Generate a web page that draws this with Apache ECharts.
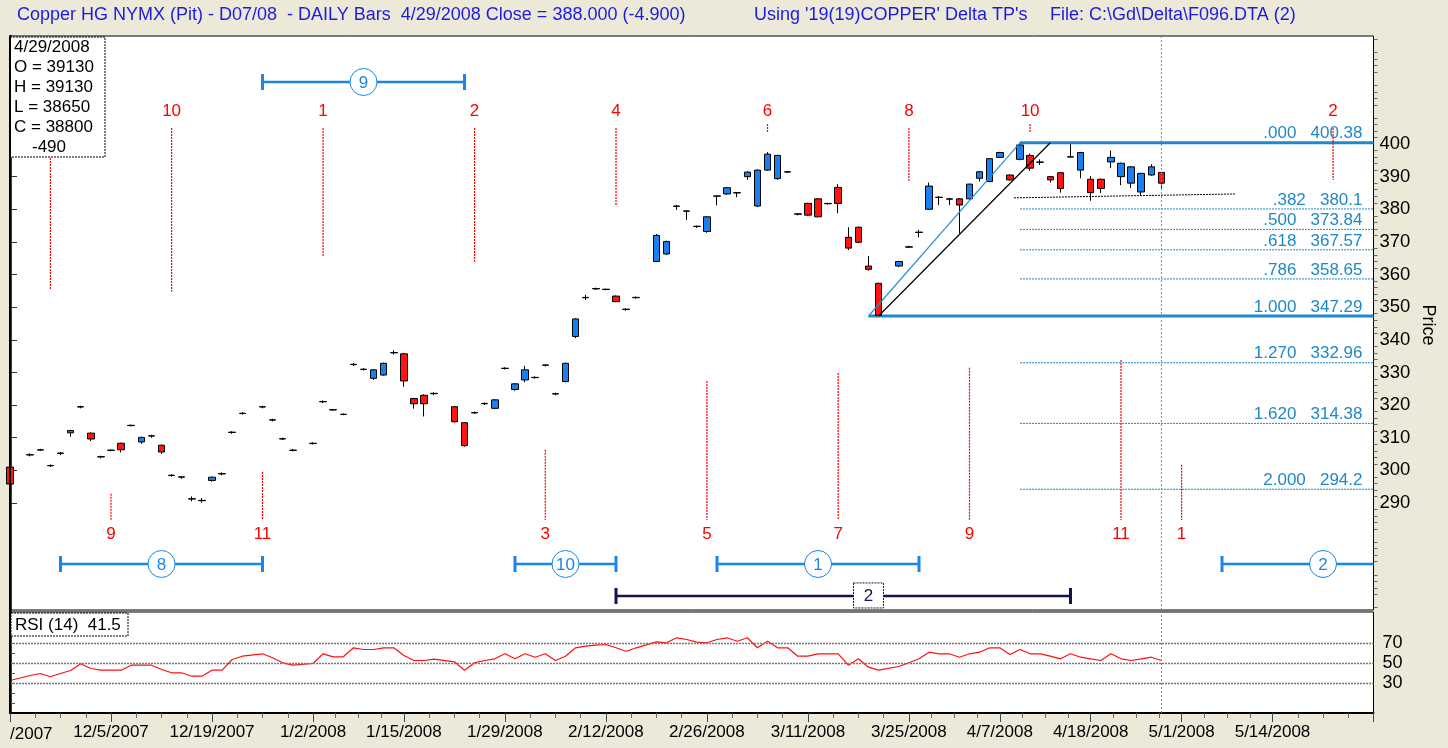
<!DOCTYPE html>
<html><head><meta charset="utf-8">
<script src="https://cdn.jsdelivr.net/npm/echarts@6/dist/echarts.min.js"></script>
<style>html,body{margin:0;padding:0;background:#ECE9D8;}#c{width:1448px;height:748px;}</style>
</head><body><div id="c"></div><script>
// ---------- DATA ----------
// weekday index 0 = 11/21/2007 (holidays left empty)
const openP  = [301.0,null,304.8,306.3,301.5,305.3,311.5,319.5,311.4,304.2,306.2,308.3,313.8,308.7,310.6,307.7,298.5,298.0,291.3,290.8,296.9,299.0,311.7,317.5,null,319.5,315.5,309.7,306.2,null,308.3,321.1,318.6,317.2,332.5,331.0,328.2,329.2,336.1,335.7,322.0,323.0,323.6,null,319.5,314.6,317.7,320.5,319.0,331.3,324.8,327.7,328.5,332.3,323.5,327.2,341.0,353.0,355.7,355.5,353.4,349.4,353.0,null,364.0,366.3,381.0,379.5,374.8,373.2,384.1,384.7,385.1,390.0,381.0,392.0,389.4,391.5,378.6,381.8,383.2,381.8,386.7,371.4,374.5,362.6,357.3,null,362.6,368.5,373.0,380.0,383.7,383.2,383.2,383.2,389.5,388.5,395.9,390.5,395.3,396.5,394.5,390.0,391.2,396.1,392.0,389.2,389.2,394.5,390.0,388.0,385.3,390.5,391.3];
const closeP = [295.8,null,304.7,306.2,301.4,305.2,312.2,319.4,309.6,304.1,306.1,306.3,313.7,310.1,310.5,305.6,298.4,297.9,291.2,290.7,297.9,298.9,311.6,317.4,null,319.4,315.4,309.6,306.1,null,308.2,321.0,318.5,317.1,332.4,330.9,330.8,332.8,336.0,327.4,320.4,320.4,323.5,null,314.9,307.6,317.6,320.4,321.6,331.2,326.5,330.8,328.4,332.2,323.4,332.8,346.4,352.9,355.6,355.4,351.7,349.3,352.9,null,372.0,370.1,380.9,379.4,374.7,377.7,384.0,386.6,385.0,391.4,392.0,396.9,396.5,391.4,378.5,378.2,377.7,381.7,381.8,368.1,369.9,361.6,347.5,null,364.0,368.4,372.9,387.1,383.6,383.1,381.3,387.7,391.5,395.5,397.4,389.0,399.7,392.6,394.4,389.0,386.4,396.0,397.4,385.1,386.4,395.9,394.1,393.0,391.0,393.0,388.0];
const lowP   = [295.5,null,304.3,306.0,301.0,304.7,310.3,319.0,309.0,303.7,305.8,305.5,313.5,308.1,310.0,305.0,298.1,297.4,290.5,290.1,296.5,298.5,311.2,317.1,null,319.0,315.0,309.3,305.8,null,307.9,320.6,318.3,316.9,332.0,330.6,327.7,329.0,335.5,325.6,318.9,316.5,323.0,null,314.6,307.2,317.3,320.0,318.7,330.9,324.4,327.0,328.1,331.8,323.0,327.0,340.5,352.2,355.3,355.2,351.5,348.9,352.6,null,363.8,366.0,379.8,376.7,374.3,372.8,381.2,384.4,383.7,389.0,380.7,391.8,389.0,391.1,378.1,378.0,377.5,381.4,378.8,367.5,369.6,361.2,347.29,null,362.3,368.1,371.4,379.8,381.3,381.3,372.6,383.0,388.5,388.3,395.7,388.8,395.0,391.8,393.6,388.2,385.1,395.8,389.5,382.6,385.0,392.6,387.4,386.5,384.4,390.3,386.5];
const highP  = [301.3,null,305.2,306.6,301.8,305.6,312.4,319.8,311.6,304.5,306.4,308.5,314.0,310.3,310.9,307.9,298.8,298.2,292.0,291.5,298.1,299.4,312.0,317.8,null,319.8,315.8,310.0,306.5,null,308.6,321.4,318.8,317.4,332.8,331.3,331.0,333.0,336.8,336.0,322.2,323.3,323.9,null,319.7,314.8,318.0,320.8,321.8,331.6,326.7,332.0,328.8,332.5,323.8,333.0,346.6,353.8,356.0,355.7,353.6,349.6,353.3,null,372.4,370.4,381.3,379.7,375.0,377.9,384.3,386.8,385.3,391.6,392.2,397.5,396.7,391.7,378.8,382.0,383.4,382.0,387.7,374.5,374.7,365.7,357.5,null,364.2,368.8,373.7,388.2,384.0,383.5,383.4,387.9,391.7,395.7,397.6,390.7,400.38,397.1,395.3,390.2,391.4,400.0,397.6,390.2,389.4,398.0,394.3,393.2,391.2,393.8,391.3];
const rsi14  = [32.5,null,37.5,39.5,36.2,39.5,42.5,49.2,44.5,42.8,42.8,42.8,47.8,47.8,47.8,43.5,40.2,40.2,36.8,36.8,42.8,42.8,53.5,56.8,null,59.2,55.2,50.2,47.8,null,49.5,59.2,56.2,56.2,65.2,63.5,63.5,65.2,65.2,57.5,52.5,52.5,53.8,null,51.2,42.8,50.2,52.5,54.2,59.2,54.2,59.2,55.8,59.2,52.5,56.8,65.2,66.8,67.8,68.5,65.2,61.8,65.2,null,71.2,70.2,75.2,73.5,70.8,70.2,73.5,75.2,71.8,75.2,65.2,71.8,65.2,65.2,56.8,56.8,59.2,59.2,59.2,47.8,54.2,45.8,42.8,null,46.5,50.2,54.2,60.8,59.2,59.2,55.8,59.2,60.8,65.2,65.2,58.5,63.5,59.2,59.2,56.8,54.2,59.2,55.8,54.2,52.5,59.2,54.2,52.5,54.2,55.8,52.5];

const axisLabelIdx = [10,20,30,39,49,59,69,79,89,98,107,116,125];
const axisMajorIdx = [0,10,20,30,39,49,59,69,79,89,98,107,116,125,135];
const priceTicks = [290,300,310,320,330,340,350,360,370,380,390,400];
const rsiLabels = [30,50,70];

const fibRatio = ['.000','.382','.500','.618','.786','1.000','1.270','1.620','2.000'];
const fibPrice = [400.38,380.1,373.84,367.57,358.65,347.29,332.96,314.38,294.2];
const fibStart = [100,100,100,100,100,85,100,100,100];
const fibThick = [true,false,false,false,false,true,false,false,false];

// time-cycle markers (red)
const topMarkIdx   = [4,16,31,46,60,75,89,101,131];
const topMarkText  = ['8','10','1','2','4','6','8','10','2'];
const topMarkTop   = [404.9,404.9,404.9,404.9,404.9,406.1,404.9,406.1,404.9];
const topMarkEnd   = [355.3,354.7,365.4,363.9,381.3,403.4,388.7,403.4,389.0];
const botMarkIdx   = [10,25,53,69,82,95,110,116];
const botMarkText  = ['9','11','3','5','7','9','11','1'];
const botMarkStart = [292.8,299.5,306.3,327.4,329.8,331.4,333.8,301.7];
const botMarkEnd   = 284.8;
const topLabelPrice = 410.1, botLabelPrice = 280.5;

// blue cycle bars
const cycFrom  = [25,5,50,70,120];
const cycTo    = [45,25,60,90,140];
const cycPrice = [419.0,271.3,271.3,271.3,271.3];
const cycText  = ['9','8','10','1','2'];
// navy bar
const navyFrom = 60, navyTo = 105, navyMid = 85, navyPrice = 261.5, navyText = '2';

// trend lines [x1,p1,x2,p2]
const trendBlue  = [85,347.29,100,400.38];
const trendBlack = [86,347.29,103,400.38];
const supportLine = [99.4,383.5,121.3,384.7];
const currentIdx = 114;

// ---------- BUILD ----------
const N = 136;
const dates = (function(){const o=[];const d=new Date(2007,10,21);while(o.length<N){const w=d.getDay();if(w>0&&w<6)o.push((d.getMonth()+1)+'/'+d.getDate()+'/'+d.getFullYear());d.setDate(d.getDate()+1);}return o;})();
const candleData = dates.map((_,i)=> (i<openP.length && openP[i]!=null) ? [openP[i],closeP[i],lowP[i],highP[i]] : '-');
const rsiData = []; rsi14.forEach((v,i)=>{ if(v!=null) rsiData.push([i,v]); });
const minorIdx = []; for(let k=0;k<axisMajorIdx.length-1;k++){const a=axisMajorIdx[k],b=axisMajorIdx[k+1];for(let j=1;j<4;j++)minorIdx.push(a+(b-a)*j/4);}
const priceMinor = []; for(let v=258; v<=432; v+=2) if(v%10) priceMinor.push(v);

const FONT = '"Liberation Sans", Arial, sans-serif';
const F17 = '17px ' + FONT;
const F18 = '18px ' + FONT;
const BLUE = '#1a86ea', FIBC = '#1f88c8', RED = '#ff0000', NAVY = '#141450';
const XMAX = 135, YMIN = 257.2, YMAX = 433.1;

function txt(text, x, y, fill, align, va, font, z){
  const t = {type:'text', style:{text:text, x:x, y:y, fill:fill, font:font||F17, align:align||'left', verticalAlign:va||'middle', textAlign:align||'left', textVerticalAlign:va||'middle'}};
  if(z!=null) t.z = z;
  return t;
}
function ln(x1,y1,x2,y2,stroke,w,dash,z){
  const l = {type:'line', shape:{x1:x1,y1:y1,x2:x2,y2:y2}, style:{stroke:stroke, lineWidth:w, lineDash:dash||null}};
  if(z!=null) l.z = z;
  return l;
}

const chart = echarts.init(document.getElementById('c'), null, {renderer:'canvas'});
const option = {
  animation:false,
  backgroundColor:'#ECE9D8',
  grid:[
    {left:10, right:74.5, top:36, height:574, show:true, backgroundColor:'#fff', borderColor:'#000', borderWidth:1},
    {left:10, right:74.5, top:612, height:101, show:true, backgroundColor:'#fff', borderColor:'#000', borderWidth:1}
  ],
  xAxis:[
    {type:'category', gridIndex:0, data:dates, boundaryGap:false, show:false},
    {type:'value', gridIndex:0, min:0, max:XMAX, show:false},
    {type:'value', gridIndex:1, min:0, max:XMAX, position:'bottom',
      axisLine:{show:true, onZero:false, lineStyle:{color:'#000', width:2}},
      axisTick:{show:true, customValues:axisMajorIdx, length:9, lineStyle:{color:'#444', width:1}},
      axisLabel:{show:true, customValues:axisLabelIdx, formatter:v=>dates[Math.round(v)], fontSize:17, fontFamily:FONT, color:'#000', margin:11},
      splitLine:{show:false}},
    {type:'value', gridIndex:1, min:0, max:XMAX, position:'bottom',
      axisLine:{show:false}, axisTick:{show:true, customValues:minorIdx, length:5, lineStyle:{color:'#666'}},
      axisLabel:{show:false}, splitLine:{show:false}}
  ],
  yAxis:[
    {type:'value', gridIndex:0, position:'right', min:YMIN, max:YMAX,
      axisLine:{show:true, lineStyle:{color:'#000', width:2.5}},
      axisTick:{show:true, customValues:priceTicks, length:7, lineStyle:{color:'#333'}},
      axisLabel:{show:true, customValues:priceTicks, fontSize:18.5, fontFamily:FONT, color:'#000', margin:6},
      splitLine:{show:false}},
    {type:'value', gridIndex:0, position:'right', min:YMIN, max:YMAX,
      axisLine:{show:false}, axisTick:{show:true, customValues:priceMinor, length:4, lineStyle:{color:'#666'}},
      axisLabel:{show:false}, splitLine:{show:false}},
    {type:'value', gridIndex:1, position:'right', min:0, max:101,
      axisLine:{show:true, lineStyle:{color:'#000', width:2.5}},
      axisTick:{show:true, customValues:[10,20,30,40,50,60,70,80,90], length:5, lineStyle:{color:'#555'}},
      axisLabel:{show:true, customValues:rsiLabels, fontSize:18, fontFamily:FONT, color:'#000', margin:9},
      splitLine:{show:false}}
  ],
  series:[
    { // fib levels
      type:'custom', xAxisIndex:1, yAxisIndex:0, z:1, silent:true,
      data: fibPrice.map((p,i)=>[fibStart[i], p]),
      renderItem:(params, api)=>{
        const i = params.dataIndex;
        const a = api.coord([fibStart[i], fibPrice[i]]), b = api.coord([XMAX, fibPrice[i]]);
        return {type:'group', children:[
          ln(a[0],a[1],b[0],b[1],FIBC, fibThick[i]?3:1, fibThick[i]?null:[2,1]),
          txt(fibRatio[i]+'   '+fibPrice[i], b[0]-11, a[1]-9, FIBC, 'right','middle')
        ]};
      }
    },
    { // candles
      type:'candlestick', xAxisIndex:0, yAxisIndex:0, data:candleData, barWidth:7, z:3, clip:true,
      itemStyle:{color:'#1a7ff0', color0:'#ff1414', borderColor:'#000', borderColor0:'#000', borderColorDoji:'#000', borderWidth:1}
    },
    { // trend lines + current bar line
      type:'custom', xAxisIndex:1, yAxisIndex:0, z:4, silent:true,
      data:[[trendBlue[0],trendBlue[1]]],
      renderItem:(params, api)=>{
        const b1=api.coord([trendBlue[0],trendBlue[1]]), b2=api.coord([trendBlue[2],trendBlue[3]]);
        const k1=api.coord([trendBlack[0],trendBlack[1]]), k2=api.coord([trendBlack[2],trendBlack[3]]);
        const s1=api.coord([supportLine[0],supportLine[1]]), s2=api.coord([supportLine[2],supportLine[3]]);
        const c1=api.coord([currentIdx,YMAX]), c2=api.coord([currentIdx,YMIN]);
        return {type:'group', children:[
          ln(b1[0],b1[1],b2[0],b2[1],'#2a90d8',1.2),
          ln(k1[0],k1[1],k2[0],k2[1],'#000',1.2),
          ln(s1[0],s1[1],s2[0],s2[1],'#000',1,[2,1]),
          ln(c1[0],c1[1],c2[0],c2[1],'#888',1,[2,2])
        ]};
      }
    },
    { // red time markers top
      type:'custom', xAxisIndex:1, yAxisIndex:0, z:2, silent:true,
      data: topMarkIdx.map((x,i)=>[x, topMarkTop[i]]),
      renderItem:(params, api)=>{
        const i=params.dataIndex, x=topMarkIdx[i];
        const a=api.coord([x, topMarkTop[i]]), b=api.coord([x, topMarkEnd[i]]), t=api.coord([x, topLabelPrice]);
        return {type:'group', children:[ ln(a[0],a[1],b[0],b[1],RED,1.2,[2,1]), txt(topMarkText[i], t[0], t[1], RED, 'center','middle') ]};
      }
    },
    { // red time markers bottom
      type:'custom', xAxisIndex:1, yAxisIndex:0, z:2, silent:true,
      data: botMarkIdx.map((x,i)=>[x, botMarkStart[i]]),
      renderItem:(params, api)=>{
        const i=params.dataIndex, x=botMarkIdx[i];
        const a=api.coord([x, botMarkStart[i]]), b=api.coord([x, botMarkEnd]), t=api.coord([x, botLabelPrice]);
        return {type:'group', children:[ ln(a[0],a[1],b[0],b[1],RED,1.2,[2,1]), txt(botMarkText[i], t[0], t[1], RED, 'center','middle') ]};
      }
    },
    { // blue cycle bars
      type:'custom', xAxisIndex:1, yAxisIndex:0, z:5, silent:true,
      data: cycFrom.map((x,i)=>[(x+cycTo[i])/2, cycPrice[i]]),
      renderItem:(params, api)=>{
        const i=params.dataIndex;
        const to = Math.min(cycTo[i], XMAX);
        const a=api.coord([cycFrom[i], cycPrice[i]]), b=api.coord([to, cycPrice[i]]), c=api.coord([(cycFrom[i]+cycTo[i])/2, cycPrice[i]]);
        const ch=[ ln(a[0],a[1],b[0],b[1],BLUE,2.5), ln(a[0],a[1]-8,a[0],a[1]+8,BLUE,3) ];
        if(cycTo[i] <= XMAX) ch.push(ln(b[0],b[1]-8,b[0],b[1]+8,BLUE,3));
        ch.push({type:'circle', shape:{cx:c[0], cy:c[1], r:13.5}, style:{fill:'#fff', stroke:BLUE, lineWidth:1}});
        ch.push(txt(cycText[i], c[0], c[1]+1, BLUE, 'center','middle'));
        return {type:'group', children:ch};
      }
    },
    { // navy bar
      type:'custom', xAxisIndex:1, yAxisIndex:0, z:5, silent:true,
      data:[[navyMid, navyPrice]],
      renderItem:(params, api)=>{
        const a=api.coord([navyFrom,navyPrice]), b=api.coord([navyTo,navyPrice]), c=api.coord([navyMid,navyPrice]);
        return {type:'group', children:[
          ln(a[0],a[1],b[0],b[1],NAVY,2.5), ln(a[0],a[1]-8,a[0],a[1]+8,NAVY,3), ln(b[0],b[1]-8,b[0],b[1]+8,NAVY,3),
          {type:'rect', shape:{x:c[0]-15, y:c[1]-13, width:30, height:25}, style:{fill:'#fff', stroke:NAVY, lineWidth:1, lineDash:[2,1]}},
          txt(navyText, c[0], c[1], NAVY, 'center','middle')
        ]};
      }
    },
    { // RSI
      type:'line', xAxisIndex:2, yAxisIndex:2, data:rsiData, symbol:'none', z:3, silent:true,
      lineStyle:{color:'#ff1010', width:1.2},
      markLine:{silent:true, symbol:'none', label:{show:false},
        data:[
          {yAxis:30, lineStyle:{color:'#777', type:[2,1], width:1.3}},
          {yAxis:50, lineStyle:{color:'#777', type:[2,1], width:1.3}},
          {yAxis:70, lineStyle:{color:'#777', type:[2,1], width:1.3}},
          {xAxis:currentIdx, lineStyle:{color:'#888', type:[2,2], width:1}}
        ]}
    }
  ],
  graphic:[
    txt("Copper HG NYMX (Pit) - D07/08  - DAILY Bars  4/29/2008 Close = 388.000 (-4.900)", 17, 15, '#1c1ce0', 'left','middle', F18, 100),
    txt("Using '19(19)COPPER' Delta TP's", 754, 15, '#1c1ce0', 'left','middle', F18, 100),
    txt("File: C:\\Gd\\Delta\\F096.DTA (2)", 1050, 15, '#1c1ce0', 'left','middle', F18, 100),
    {type:'rect', z:100, shape:{x:10, y:37, width:95, height:120}, style:{fill:'#fff', stroke:'#000', lineWidth:1, lineDash:[2,1]}},
    txt('4/29/2008', 14, 47, '#000', 'left','middle', F17, 101),
    txt('O = 39130', 14, 67, '#000', 'left','middle', F17, 101),
    txt('H = 39130', 14, 87, '#000', 'left','middle', F17, 101),
    txt('L = 38650', 14, 107, '#000', 'left','middle', F17, 101),
    txt('C = 38800', 14, 127, '#000', 'left','middle', F17, 101),
    txt('-490', 32, 147, '#000', 'left','middle', F17, 101),
    {type:'rect', z:100, shape:{x:11, y:613, width:117, height:23}, style:{fill:'#fff', stroke:'#000', lineWidth:1, lineDash:[2,1]}},
    txt('RSI (14)  41.5', 15, 625, '#000', 'left','middle', F17, 101),
    txt('/2007', 10, 734, '#000', 'left','middle', F17, 101),
    {type:'text', z:100, x:1428, y:325, rotation:-Math.PI/2, style:{text:'Price', x:0, y:0, font:F18, fill:'#000', align:'center', verticalAlign:'middle', textAlign:'center', textVerticalAlign:'middle'}},
    ln(10,36,10,713,'#000',2,null,100)
  ]
};
chart.setOption(option);
</script></body></html>
